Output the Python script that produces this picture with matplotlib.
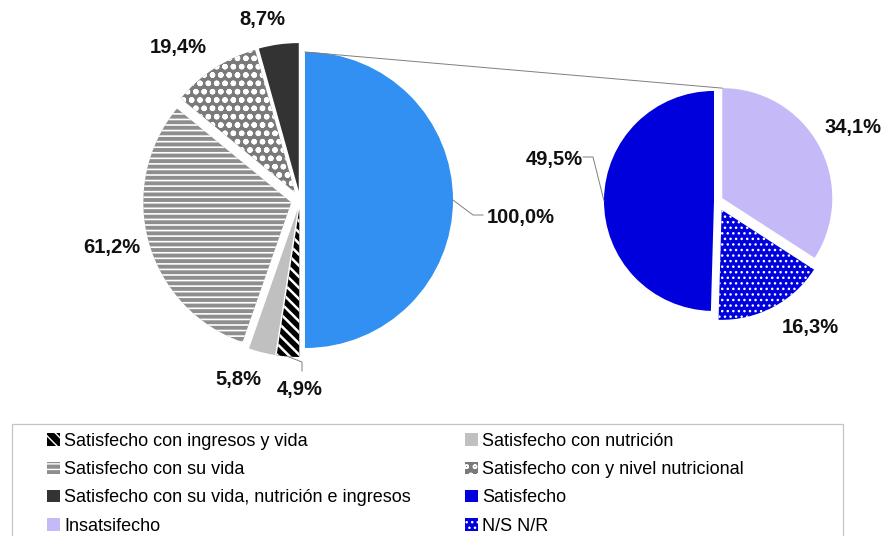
import matplotlib
matplotlib.use('Agg')
import matplotlib.pyplot as plt
from matplotlib.lines import Line2D
from matplotlib.patches import Rectangle
import numpy as np

plt.rcParams['font.family'] = ['Liberation Sans', 'DejaVu Sans']
plt.rcParams['hatch.linewidth'] = 1.0

# ---------------- data ----------------
main_categories = ['Satisfacción (detalle)', 'Satisfecho con ingresos y vida',
                   'Satisfecho con nutrición', 'Satisfecho con su vida',
                   'Satisfecho con y nivel nutricional',
                   'Satisfecho con su vida, nutrición e ingresos']
main_values = [100.0, 4.9, 5.8, 61.2, 19.4, 8.7]

sub_categories = ['Insatsifecho', 'N/S N/R', 'Satisfecho']
sub_values = [34.1, 16.3, 49.5]

legend_col1 = ['Satisfecho con ingresos y vida', 'Satisfecho con su vida',
               'Satisfecho con su vida, nutrición e ingresos', 'Insatsifecho']
legend_col2 = ['Satisfecho con nutrición', 'Satisfecho con y nivel nutricional',
               'Satisfecho', 'N/S N/R']

# ---------------- styles ----------------
W, H = 883, 536
main_colors = ['#3190f2', '#000000', '#c0c0c0', '#8e8e8e', '#7a7a7a', '#333333']
main_hatch = [None, '\\\\\\', None, '---', 'oo', None]
main_hlw = [1.0, 1.8, 1.0, 1.2, 1.6, 1.0]
main_explode = [5, 9, 9, 9, 9, 9]          # offsets in pixels
main_center = (300, 200)
main_radius = 148

sub_colors = ['#c5b9f8', '#0000dd', '#0000dd']
sub_hatch = [None, '...', None]
sub_hlw = [1.0, 1.0, 1.0]
sub_explode = [6, 10, 3]
sub_center = (717, 201)
sub_radius = 110

main_label_pos = [(521, 217), (300, 389), (238, 380), (112, 247), (178, 47), (262, 19)]
sub_label_pos = [(853, 127), (810, 327), (554, 159)]


def P(x, y):
    return (x, H - y)


def fmt(v):
    return f"{v:.1f}".replace('.', ',') + '%'


def set_hlw(p, lw):
    if hasattr(p, 'set_hatch_linewidth'):
        p.set_hatch_linewidth(lw)
    else:
        p._hatch_linewidth = lw


fig = plt.figure(figsize=(W / 100, H / 100), dpi=100)
ax = fig.add_axes([0, 0, 1, 1])

main_wedges, _ = ax.pie(main_values, startangle=90, counterclock=False,
                        center=P(*main_center), radius=main_radius,
                        explode=main_explode, colors=main_colors,
                        wedgeprops=dict(linewidth=0, edgecolor='white'))
sub_wedges, _ = ax.pie(sub_values, startangle=90, counterclock=False,
                       center=P(*sub_center), radius=sub_radius,
                       explode=sub_explode, colors=sub_colors,
                       wedgeprops=dict(linewidth=0, edgecolor='white'))

for w, h, lw in zip(main_wedges, main_hatch, main_hlw):
    if h:
        w.set_hatch(h)
        w.set_edgecolor('white')
        w.set_linewidth(0)
        set_hlw(w, lw)
for w, h, lw in zip(sub_wedges, sub_hatch, sub_hlw):
    if h:
        w.set_hatch(h)
        w.set_edgecolor('white')
        w.set_linewidth(0)
        set_hlw(w, lw)

ax.set_xlim(0, W)
ax.set_ylim(0, H)
ax.set_aspect('auto')
ax.axis('off')


def edge_point(w, ang=None):
    if ang is None:
        ang = 0.5 * (w.theta1 + w.theta2)
    cx, cy = w.center
    return cx + w.r * np.cos(np.radians(ang)), cy + w.r * np.sin(np.radians(ang))


lcol = '#7f7f7f'
# connector between the two pies
p1 = edge_point(main_wedges[0], 90)
p2 = edge_point(sub_wedges[0], 90)
ax.add_line(Line2D([p1[0], p2[0]], [p1[1], p2[1]], color=lcol, lw=0.7))

# labels
tkw = dict(fontsize=14.5, fontweight='bold', color='#111111', ha='center', va='center')
for v, pos in zip(main_values, main_label_pos):
    ax.text(*P(*pos), fmt(v), **tkw)
for v, pos in zip(sub_values, sub_label_pos):
    ax.text(*P(*pos), fmt(v), **tkw)

# leader lines
s = edge_point(main_wedges[0])
ax.add_line(Line2D([s[0], 473, 483], [s[1], H - 215, H - 215], color=lcol, lw=0.7))
s = edge_point(sub_wedges[2], 180)
ax.add_line(Line2D([s[0], 593, 583], [s[1], H - 157, H - 157], color=lcol, lw=0.7))
s = edge_point(main_wedges[1])
ax.add_line(Line2D([s[0], 302, 302], [s[1], H - 362, H - 371], color=lcol, lw=0.7))

# legend frame
fig.add_artist(Rectangle((12 / W, -0.05), (843 - 12) / W, (536 - 424) / H + 0.05,
                         transform=fig.transFigure, fill=False,
                         edgecolor='#c4c4c4', lw=0.9, clip_on=False))

handle_map = {}
for c, w in zip(main_categories, main_wedges):
    handle_map[c] = w
for c, w in zip(sub_categories, sub_wedges):
    handle_map[c] = w

lkw = dict(loc='upper left', frameon=False, fontsize=13, handlelength=0.7,
           handleheight=0.7, handletextpad=0.25, labelspacing=0.62,
           borderpad=0, borderaxespad=0)
fig.legend([handle_map[c] for c in legend_col1], legend_col1,
           bbox_to_anchor=(47 / W, 1 - 433 / H), **lkw)
fig.legend([handle_map[c] for c in legend_col2], legend_col2,
           bbox_to_anchor=(465 / W, 1 - 433 / H), **lkw)

fig.savefig('out.png', dpi=100)
